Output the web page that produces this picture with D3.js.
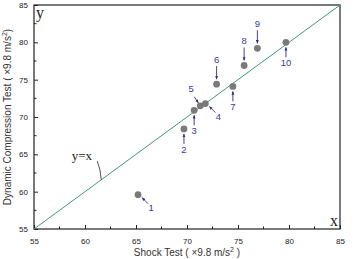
<!DOCTYPE html>
<html>
<head>
<meta charset="utf-8">
<script src="https://cdn.jsdelivr.net/npm/d3@7"></script>
<style>
  body { margin: 0; background: #fff; }
  svg { display: block; font-family: "Liberation Sans", Arial, sans-serif; }
</style>
</head>
<body>
<div id="chart"></div>
<script>
var w = 354, h = 259;

// data
var sampleIds = ["1", "2", "3", "4", "5", "6", "7", "8", "9", "10"];
var shockValues = [65.2, 69.7, 70.7, 71.8, 71.3, 72.9, 74.5, 75.6, 76.9, 79.7];
var compressionValues = [59.6, 68.4, 70.9, 71.8, 71.5, 74.4, 74.1, 76.9, 79.2, 80.0];
// label placement: direction of the label from the dot
var labelSide = ["se", "s", "s", "se", "nw", "n", "s", "n", "n", "s"];
var majorTicks = [55, 60, 65, 70, 75, 80, 85];
var minorTicks = d3.range(57.5, 85, 5);

var margin = {top: 5, right: 14, bottom: 30, left: 34},
    width = w - margin.left - margin.right,
    height = h - margin.top - margin.bottom;

var x = d3.scaleLinear().domain([55, 85]).range([0, width]);
var y = d3.scaleLinear().domain([55, 85]).range([height, 0]);

var svg = d3.select("#chart").append("svg")
    .attr("width", w)
    .attr("height", h);

var defs = svg.append("defs");
defs.append("marker")
    .attr("id", "arrow")
    .attr("viewBox", "0 0 10 10")
    .attr("refX", 9).attr("refY", 5)
    .attr("markerWidth", 4).attr("markerHeight", 4)
    .attr("orient", "auto")
  .append("path")
    .attr("d", "M0,1 L10,5 L0,9 Z")
    .attr("fill", "#2e2e80");

var g = svg.append("g")
    .attr("transform", "translate(" + margin.left + "," + margin.top + ")");

// frame
g.append("rect")
    .attr("width", width).attr("height", height)
    .attr("fill", "none").attr("stroke", "#222").attr("stroke-width", 1.2);

// axes, ticks pointing inward
var xAxis = g.append("g").attr("transform", "translate(0," + height + ")");
xAxis.call(d3.axisBottom(x).tickValues(majorTicks).tickSize(-4).tickPadding(9));
xAxis.append("g").selectAll("line").data(minorTicks).join("line")
    .attr("x1", d => x(d)).attr("x2", d => x(d))
    .attr("y1", 0).attr("y2", -2.5).attr("stroke", "#222");

var yAxis = g.append("g");
yAxis.call(d3.axisLeft(y).tickValues(majorTicks).tickSize(-4).tickPadding(6));
yAxis.append("g").selectAll("line").data(minorTicks).join("line")
    .attr("y1", d => y(d)).attr("y2", d => y(d))
    .attr("x1", 0).attr("x2", 2.5).attr("stroke", "#222");

g.selectAll(".domain").remove();
g.selectAll(".tick line").attr("stroke", "#222");
g.selectAll(".tick text").attr("font-size", 8).attr("fill", "#222")
    .attr("font-family", "'Liberation Sans', Arial, sans-serif");

// y = x line
g.append("line")
    .attr("x1", x(55)).attr("y1", y(55))
    .attr("x2", x(85)).attr("y2", y(85))
    .attr("stroke", "#3f9a72").attr("stroke-width", 1);

// y=x label with leader
g.append("text")
    .attr("x", x(58.7)).attr("y", y(64.2))
    .attr("font-family", "'Liberation Serif', 'Times New Roman', serif")
    .attr("font-size", 13).attr("fill", "#222")
    .text("y=x");
g.append("path")
    .attr("d", "M" + x(61.2) + "," + y(64.1) + " Q" + (x(61.4) + 1) + "," + y(63.2) + " " + x(61.6) + "," + y(61.6))
    .attr("fill", "none").attr("stroke", "#222").attr("stroke-width", 0.8);

// corner letters
g.append("text")
    .attr("x", 2).attr("y", 13)
    .attr("font-family", "'Liberation Serif', 'Times New Roman', serif")
    .attr("font-size", 16).attr("fill", "#222").text("y");
g.append("text")
    .attr("x", width - 10).attr("y", height - 3)
    .attr("font-family", "'Liberation Serif', 'Times New Roman', serif")
    .attr("font-size", 16).attr("fill", "#222").text("x");

// points
var points = sampleIds.map(function (id, i) {
    return {id: id, x: shockValues[i], y: compressionValues[i], side: labelSide[i]};
});

g.selectAll("circle.pt").data(points).join("circle")
    .attr("class", "pt")
    .attr("cx", d => x(d.x)).attr("cy", d => y(d.y))
    .attr("r", 3.4)
    .attr("fill", "#7a7a7a");

// arrow offsets per side: [start dx, start dy, end dx, end dy, label dx, label dy]
var offsets = {
    n:  [0, -18, 0, -5, 0, -21],
    s:  [0, 15, 0, 5, 0, 24],
    se: [10, 9, 4, 3, 13, 16],
    nw: [-6, -9, -2, -3, -9, -14]
};

g.selectAll("line.arr").data(points).join("line")
    .attr("class", "arr")
    .attr("x1", d => x(d.x) + offsets[d.side][0])
    .attr("y1", d => y(d.y) + offsets[d.side][1])
    .attr("x2", d => x(d.x) + offsets[d.side][2])
    .attr("y2", d => y(d.y) + offsets[d.side][3])
    .attr("stroke", "#2e2e80").attr("stroke-width", 0.9)
    .attr("marker-end", "url(#arrow)");

g.selectAll("text.lbl").data(points).join("text")
    .attr("class", "lbl")
    .attr("x", d => x(d.x) + offsets[d.side][4])
    .attr("y", d => y(d.y) + offsets[d.side][5])
    .attr("text-anchor", "middle")
    .attr("font-size", 9.5).attr("fill", "#3a3a96")
    .text(d => d.id);

// axis titles
var xt = svg.append("text")
    .attr("x", margin.left + width / 2).attr("y", h - 3)
    .attr("text-anchor", "middle")
    .attr("font-size", 10).attr("fill", "#333");
xt.append("tspan").text("Shock Test ( \u00d79.8 m/s");
xt.append("tspan").attr("dy", -4).attr("font-size", 7).text("2");
xt.append("tspan").attr("dy", 4).text(" )");

var yt = svg.append("text")
    .attr("transform", "translate(11," + (margin.top + height / 2) + ") rotate(-90)")
    .attr("text-anchor", "middle")
    .attr("font-size", 10).attr("fill", "#333");
yt.append("tspan").text("Dynamic Compression Test ( \u00d79.8 m/s");
yt.append("tspan").attr("dy", -4).attr("font-size", 7).text("2");
yt.append("tspan").attr("dy", 4).text(")");
</script>
</body>
</html>
